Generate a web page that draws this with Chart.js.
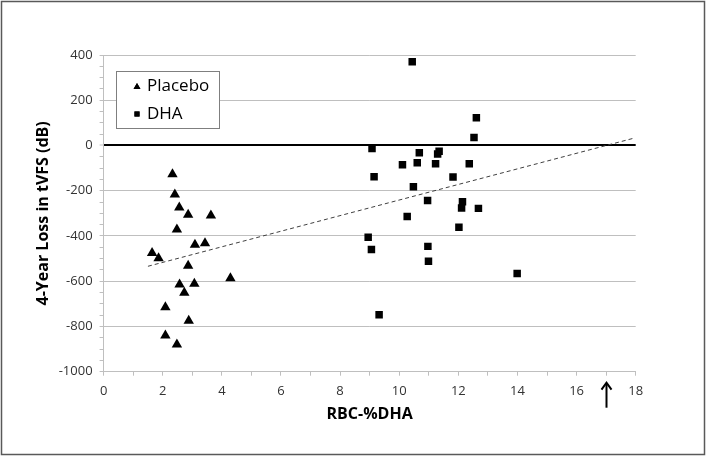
<!DOCTYPE html>
<html>
    <head>
        <script src="https://cdn.jsdelivr.net/npm/chart.js@4.4.0/dist/chart.umd.min.js"></script>
        <style>
            body { margin: 0; background: #fff; }
            #wrap { width: 707px; height: 459px; position: relative; }
        </style>
    </head>
    <body>
        <div id="wrap">
            <canvas id="myChart" width="707" height="459"></canvas>
        </div>

        <script>
            // DATA
            const placeboX = [2.33, 2.41, 2.56, 2.86, 3.63, 2.48, 3.09, 3.43, 1.64, 1.86, 2.86, 4.29, 2.57, 3.07, 2.73, 2.09, 2.88, 2.09, 2.48];
            const placeboY = [-127, -217, -274, -306, -309, -371, -439, -432, -475, -498, -532, -587, -614, -611, -651, -715, -775, -840, -880];

            const dhaX = [10.44, 12.61, 12.53, 9.08, 10.68, 11.35, 11.30, 10.11, 10.61, 11.23, 12.37, 9.15, 11.82, 10.48, 10.96, 12.14, 12.11, 12.68, 10.27, 12.02, 8.95, 9.06, 10.97, 10.99, 13.99, 9.32];
            const dhaY = [370, 123, 35, -13, -32, -25, -38, -85, -76, -81, -81, -138, -139, -182, -243, -249, -276, -278, -314, -361, -406, -460, -446, -512, -566, -748];

            // trend line end points
            const trendX = [1.5, 17.9];
            const trendY = [-534, 31];

            const arrowAt = 17;
            const legendLabels = ['Placebo', 'DHA'];

            const FONT = "'Open Sans', sans-serif";
            const GRAY = '#bfbfbf';

            function pts(xs, ys) {
                return xs.map((x, i) => ({ x: x, y: ys[i] }));
            }

            // frame, legend and arrow
            const extras = {
                id: 'extras',
                afterDraw(chart) {
                    const ctx = chart.ctx;
                    const xs = chart.scales.x;
                    const ys = chart.scales.y;
                    ctx.save();

                    // outer frame
                    ctx.strokeStyle = '#595959';
                    ctx.lineWidth = 1.5;
                    ctx.strokeRect(1.5, 1.5, 703, 453);

                    // legend
                    ctx.fillStyle = '#fff';
                    ctx.fillRect(116.5, 71.5, 103, 57);
                    ctx.strokeStyle = '#7f7f7f';
                    ctx.lineWidth = 1;
                    ctx.strokeRect(116.5, 71.5, 103, 57);
                    const styles = ['triangle', 'rect'];
                    const rads = [4, 3.6];
                    ctx.fillStyle = '#000';
                    ctx.strokeStyle = '#000';
                    legendLabels.forEach((lab, i) => {
                        const y = 86 + i * 28;
                        Chart.helpers.drawPoint(ctx, { pointStyle: styles[i], radius: rads[i], borderWidth: 0 }, 137, y + (i === 0 ? 1 : 0));
                        ctx.fill();
                        ctx.font = '17px ' + FONT;
                        ctx.textBaseline = 'middle';
                        ctx.textAlign = 'left';
                        ctx.fillStyle = '#000';
                        ctx.fillText(lab, 147, y);
                    });

                    // arrow below the axis
                    const ax = Math.round(xs.getPixelForValue(arrowAt)) + 0.5;
                    const top = ys.bottom + 11;
                    ctx.strokeStyle = '#000';
                    ctx.lineWidth = 2;
                    ctx.beginPath();
                    ctx.moveTo(ax, top + 1);
                    ctx.lineTo(ax, top + 25);
                    ctx.stroke();
                    ctx.beginPath();
                    ctx.moveTo(ax - 5, top + 7);
                    ctx.lineTo(ax, top);
                    ctx.lineTo(ax + 5, top + 7);
                    ctx.stroke();

                    ctx.restore();
                }
            };

            const data = {
                datasets: [{
                    label: 'Placebo',
                    data: pts(placeboX, placeboY),
                    pointStyle: 'triangle',
                    pointRadius: 6,
                    pointHoverRadius: 6,
                    backgroundColor: '#000',
                    borderColor: '#000',
                    borderWidth: 0
                }, {
                    label: 'DHA',
                    data: pts(dhaX, dhaY),
                    pointStyle: 'rect',
                    pointRadius: 5.3,
                    pointHoverRadius: 5.3,
                    backgroundColor: '#000',
                    borderColor: '#000',
                    borderWidth: 0
                }, {
                    label: 'Trend',
                    type: 'line',
                    data: pts(trendX, trendY),
                    showLine: true,
                    borderColor: '#404040',
                    borderWidth: 1,
                    borderDash: [4, 3],
                    pointRadius: 0,
                    fill: false
                }]
            };

            const config = {
                type: 'scatter',
                data,
                options: {
                    responsive: false,
                    animation: false,
                    layout: { padding: { left: 0, right: 71.3, top: 55, bottom: 0 } },
                    plugins: {
                        legend: { display: false },
                        tooltip: { enabled: false }
                    },
                    scales: {
                        x: {
                            type: 'linear',
                            min: 0,
                            max: 18,
                            afterFit: s => { s.height = 87.3; },
                            ticks: {
                                stepSize: 1,
                                autoSkip: false,
                                maxRotation: 0,
                                padding: 8,
                                color: '#333',
                                font: { family: FONT, size: 13 },
                                callback: v => (v % 2 === 0 ? v : '')
                            },
                            grid: {
                                drawOnChartArea: false,
                                tickLength: 4,
                                tickColor: GRAY
                            },
                            border: { color: GRAY, width: 1 },
                            title: {
                                display: true,
                                text: 'RBC-%DHA',
                                color: '#000',
                                font: { family: FONT, size: 16, weight: 'bold' },
                                padding: { top: 0, bottom: 35 }
                            }
                        },
                        y: {
                            min: -1000,
                            max: 400,
                            afterFit: s => { s.width = 103.6; },
                            ticks: {
                                stepSize: 50,
                                autoSkip: false,
                                padding: 7,
                                color: '#333',
                                font: { family: FONT, size: 13 },
                                callback: v => (v % 200 === 0 ? v : '')
                            },
                            grid: {
                                tickLength: 4,
                                color: c => (c.tick.value === 0 ? '#000' : (c.tick.value % 200 === 0 ? GRAY : 'rgba(0,0,0,0)')),
                                lineWidth: c => (c.tick.value === 0 ? 2 : 1),
                                tickColor: GRAY,
                                tickWidth: 1
                            },
                            border: { color: GRAY, width: 1 },
                            title: {
                                display: true,
                                text: '4-Year Loss in tVFS (dB)',
                                color: '#000',
                                font: { family: FONT, size: 16, weight: 'bold' },
                                padding: { top: 34, bottom: 0 }
                            }
                        }
                    }
                },
                plugins: [extras]
            };

            // RENDER
            const myChart = new Chart(
                document.getElementById('myChart'),
                config
                );
        </script>
    </body>
</html>
